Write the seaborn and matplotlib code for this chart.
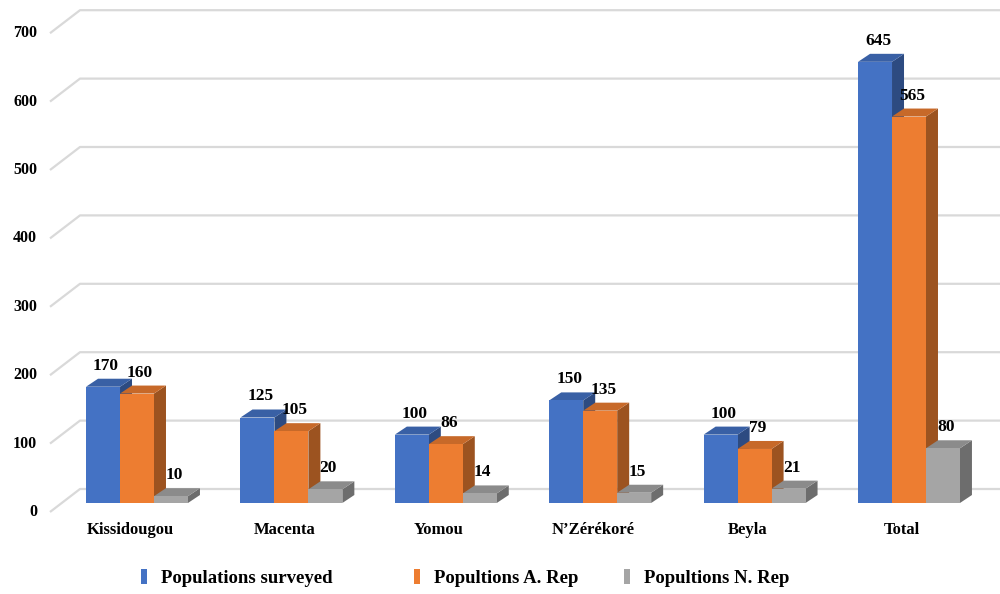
import numpy as np
import pandas as pd
import matplotlib
matplotlib.use("Agg")
import matplotlib.pyplot as plt
import seaborn as sns
from matplotlib.patches import Polygon, Patch
from matplotlib.colors import to_rgb

# ---------------- data ----------------
categories = ["Kissidougou", "Macenta", "Yomou", "N\u2019Zérékoré", "Beyla", "Total"]
series_names = ["Populations surveyed", "Popultions A. Rep", "Popultions N. Rep"]
surveyed = [170, 125, 100, 150, 100, 645]
a_rep = [160, 105, 86, 135, 79, 565]
n_rep = [10, 20, 14, 15, 21, 80]
y_ticks = [0, 100, 200, 300, 400, 500, 600, 700]
colors = ["#4472C4", "#ED7D31", "#A5A5A5"]

df = pd.DataFrame({
    "Zone": categories * 3,
    "Series": [series_names[0]] * 6 + [series_names[1]] * 6 + [series_names[2]] * 6,
    "Value": surveyed + a_rep + n_rep,
})

# ---------------- style ----------------
sns.set_theme(style="white")
plt.rcParams["font.family"] = ["Liberation Serif", "DejaVu Serif"]
plt.rcParams["font.weight"] = "bold"
plt.rcParams["text.color"] = "black"

W, H = 1000, 594
fig = plt.figure(figsize=(W / 100, H / 100), dpi=100)
ax = fig.add_axes([0, 0, 1, 1])

# pixel geometry of the reference
PXY = 0.684          # pixels per value unit
BASE = 503           # pixel row of bar baseline (front)
X0 = 137             # pixel of first group centre
XS = 154.4           # pixels between groups

def px_to_dx(px):
    return px / XS

def py_to_dy(py):
    return py / PXY

sns.barplot(data=df, x="Zone", y="Value", hue="Series", order=categories,
            hue_order=series_names, palette=colors, width=0.66, gap=0,
            saturation=1, legend=False, ax=ax, errorbar=None)

ax.set_xlim(-X0 / XS, (W - X0) / XS)
ax.set_ylim(-(H - BASE) / PXY, BASE / PXY)
ax.axis("off")

# ---------------- back gridlines ----------------
gx_front = px_to_dx(50 - X0)
gx_back = px_to_dx(80 - X0)
g_front_dy = -py_to_dy(9)
g_back_dy = py_to_dy(14)
for v in y_ticks:
    ax.plot([gx_front, gx_back, (W - X0) / XS],
            [v + g_front_dy, v + g_back_dy, v + g_back_dy],
            color="#D9D9D9", lw=1.6, zorder=0.5, solid_capstyle="butt")
    ax.text(px_to_dx(37 - X0), v + g_front_dy, str(v), ha="right", va="center",
            fontsize=11.5, fontweight="bold", color="black")

# ---------------- 3D faces ----------------
ddx = px_to_dx(12)
ddy = py_to_dy(8)

def shade(c, f):
    r, g, b = to_rgb(c)
    return (r * f, g * f, b * f)

for k, cont in enumerate(ax.containers):
    col = colors[k]
    for p in cont.patches:
        x0 = p.get_x()
        w = p.get_width()
        h = p.get_height()
        p.set_zorder(2.5 + k)
        p.set_edgecolor("none")
        top = Polygon([(x0, h), (x0 + w, h), (x0 + w + ddx, h + ddy), (x0 + ddx, h + ddy)],
                      closed=True, facecolor=shade(col, 0.84), edgecolor="none", zorder=2 + k)
        side = Polygon([(x0 + w, 0), (x0 + w + ddx, ddy), (x0 + w + ddx, h + ddy), (x0 + w, h)],
                       closed=True, facecolor=shade(col, 0.66), edgecolor="none", zorder=2 + k)
        ax.add_patch(side)
        ax.add_patch(top)
        ax.text(x0 + w / 2 + px_to_dx(3), h + ddy + py_to_dy(5), f"{int(round(h))}",
                ha="center", va="bottom", fontsize=12.5, fontweight="bold",
                color="black", zorder=10)

# ---------------- category labels ----------------
for i, c in enumerate(categories):
    ax.text(i - px_to_dx(7), -py_to_dy(27), c, ha="center", va="center",
            fontsize=12, fontweight="bold", color="black")

# ---------------- legend ----------------
leg_x = [141, 414, 624]
for k, name in enumerate(series_names):
    h = Patch(facecolor=colors[k], edgecolor="none")
    lg = fig.legend(handles=[h], labels=[name], loc="center left",
                    bbox_to_anchor=(leg_x[k] / W, (H - 578) / H),
                    frameon=False, handlelength=0.32, handleheight=0.8,
                    handletextpad=0.75, borderpad=0, borderaxespad=0,
                    labelcolor="black",
                    prop={"family": "Liberation Serif", "weight": "bold", "size": 13.5})

fig.savefig("out.png", dpi=100)
